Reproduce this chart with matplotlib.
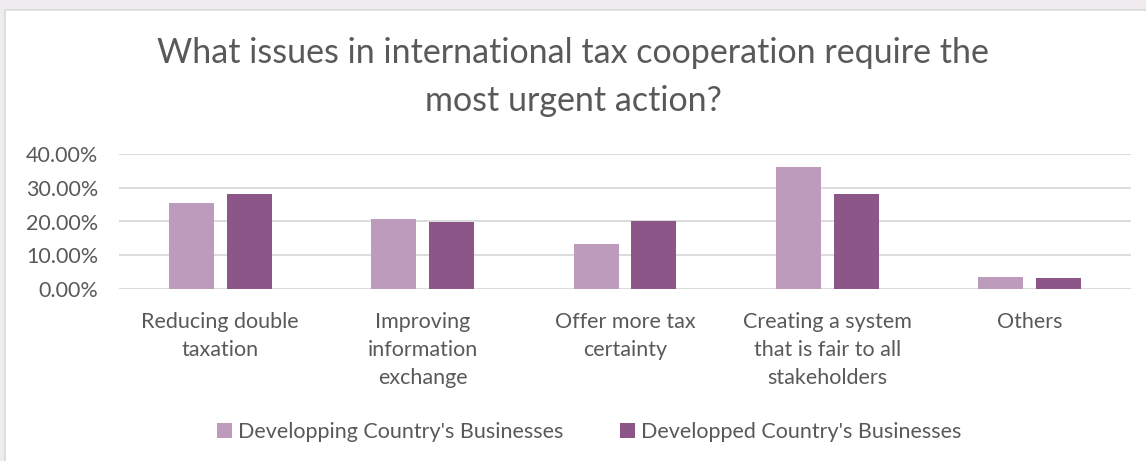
import numpy as np
import matplotlib.pyplot as plt
from matplotlib.patches import Rectangle
from matplotlib.ticker import FuncFormatter

# Survey answers (share of respondents)
categories = ["Reducing double\ntaxation", "Improving\ninformation\nexchange",
              "Offer more tax\ncertainty", "Creating a system\nthat is fair to all\nstakeholders",
              "Others"]
developing = [25.4, 20.7, 13.4, 36.3, 3.5]
developed = [28.3, 19.9, 20.0, 28.3, 3.2]
series_names = ["Developping Country's Businesses", "Developped Country's Businesses"]

plt.rcParams["font.family"] = ["Lato", "DejaVu Sans"]
text_color = "#595959"
light = "#BC9BBD"
dark = "#8D5689"
fs = 15.5

fig = plt.figure(figsize=(11.46, 4.61), dpi=100)
fig.patch.set_facecolor("#EFEBEF")
# white chart area with thin border
fig.patches.append(Rectangle((5 / 1146, -0.01), 1.0, 1 - 10 / 461 + 0.01,
                             transform=fig.transFigure, facecolor="white",
                             edgecolor="#D9D9D9", linewidth=1.2, zorder=-10))

ax = fig.add_axes([119 / 1146, 1 - 288.7 / 461, (1131 - 119) / 1146, (288.7 - 154.3) / 461])
ax.set_facecolor("none")

x = np.arange(len(categories))
w = 0.222
ax.bar(x - 0.143, developing, w, color=light, label=series_names[0], zorder=2)
ax.bar(x + 0.143, developed, w, color=dark, label=series_names[1], zorder=2)

ax.set_xlim(-0.5, len(categories) - 0.5)
ax.set_ylim(0, 40)
ax.set_yticks([0, 10, 20, 30, 40])
ax.yaxis.set_major_formatter(FuncFormatter(lambda v, p: f"{v:.2f}%"))
ax.grid(axis="y", color="#D9D9D9", linewidth=1.3, zorder=0)
for s in ax.spines.values():
    s.set_visible(False)
ax.tick_params(axis="both", length=0, labelsize=fs, colors=text_color)
ax.tick_params(axis="y", pad=15)
ax.tick_params(axis="x", pad=17)
ax.set_xticks(x)
ax.set_xticklabels(categories, linespacing=1.5, va="top")

fig.text(0.5, 1 - 37 / 461, "What issues in international tax cooperation require the\nmost urgent action?",
         ha="center", va="top", fontsize=24.5, color=text_color, linespacing=1.62)

leg = fig.legend(loc="center", bbox_to_anchor=(0.514, 1 - 432 / 461), ncol=2, frameon=False,
                 fontsize=fs, handlelength=0.7, handleheight=0.7, handletextpad=0.3,
                 columnspacing=2.6)
for t in leg.get_texts():
    t.set_color(text_color)

fig.savefig("out.png", dpi=100, facecolor=fig.get_facecolor())
